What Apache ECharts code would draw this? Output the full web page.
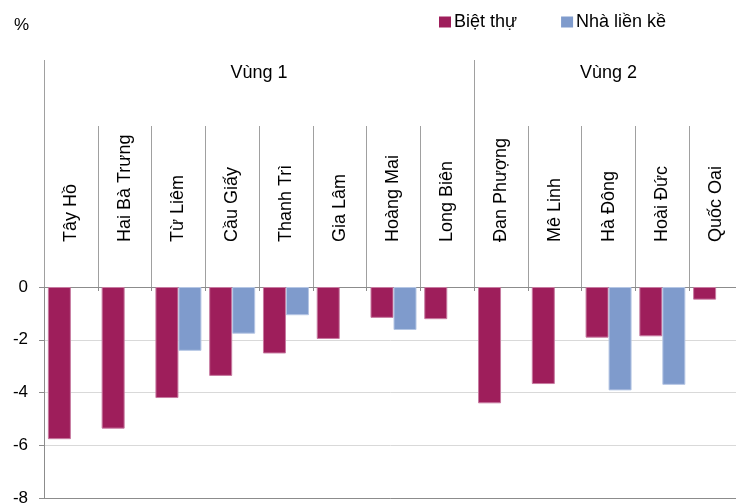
<!DOCTYPE html>
<html>
<head>
<meta charset="utf-8">
<script src="https://cdn.jsdelivr.net/npm/echarts@6/dist/echarts.min.js"></script>
<style>
  html, body { margin: 0; padding: 0; background: #fff; }
  #chart { width: 736px; height: 504px; }
</style>
</head>
<body>
<div id="chart"></div>
<script>
// du lieu
var categories = ['Tây Hồ', 'Hai Bà Trưng', 'Từ Liêm', 'Cầu Giấy', 'Thanh Trì', 'Gia Lâm', 'Hoàng Mai', 'Long Biên',
  'Đan Phượng', 'Mê Linh', 'Hà Đông', 'Hoài Đức', 'Quốc Oai'];
var bietThu = [-5.77, -5.37, -4.21, -3.37, -2.52, -1.97, -1.17, -1.22, -4.41, -3.68, -1.92, -1.87, -0.48];
var nhaLienKe = ['-', '-', -2.42, -1.77, -1.07, '-', -1.63, '-', '-', '-', -3.92, -3.71, '-'];
var seriesNames = ['Biệt thự', 'Nhà liền kề'];
var groupNames = ['Vùng 1', 'Vùng 2'];
var groupSizes = [8, 5];
var yTicks = [0, -2, -4, -6, -8];

var FONT = "'Liberation Sans', Arial, sans-serif";

// ranh gioi va tam cua tung vung
var groupEdges = [0];
var groupCenters = [];
groupSizes.forEach(function(n, i) {
  var start = groupEdges[i];
  groupEdges.push(start + n);
  groupCenters.push(start + n / 2);
});

var dom = document.getElementById('chart');
var myChart = echarts.init(dom, null, { renderer: 'canvas' });

var option = {
  animation: false,
  backgroundColor: '#fff',
  textStyle: { fontFamily: FONT },
  title: {
    text: '%',
    left: 9,
    top: 12,
    textStyle: { fontSize: 17, fontWeight: 'normal', color: '#000', fontFamily: FONT }
  },
  legend: {
    data: seriesNames,
    left: 434,
    top: 8,
    icon: 'rect',
    itemWidth: 12,
    itemHeight: 11,
    itemGap: 44,
    itemStyle: { borderWidth: 0 },
    textStyle: { fontSize: 18, color: '#000', fontFamily: FONT, padding: [0, 0, 0, -2] }
  },
  grid: {
    left: 44,
    right: -7,
    top: 287,
    bottom: 6,
    containLabel: false,
    outerBoundsMode: 'none'
  },
  xAxis: [{
    // truc chinh tai 0, cac vach ngan danh muc
    type: 'category',
    position: 'top',
    data: categories,
    axisLine: { onZero: false, lineStyle: { color: '#8c8c8c', width: 1 } },
    axisTick: { show: true, interval: 0, length: 161, lineStyle: { color: '#a0a0a0' } },
    axisLabel: {
      interval: 0,
      rotate: -90,
      margin: 45,
      fontSize: 18,
      color: '#000',
      fontFamily: FONT
    },
    splitLine: { show: false }
  }, {
    // vach nho phia duoi truc 0
    type: 'category',
    position: 'top',
    data: categories,
    axisLine: { show: false, onZero: false },
    axisTick: { show: true, interval: 0, inside: true, length: 4, lineStyle: { color: '#8c8c8c' } },
    axisLabel: { show: false },
    splitLine: { show: false }
  }, {
    // nhom vung
    type: 'value',
    position: 'top',
    min: 0,
    max: categories.length,
    axisLine: { show: false, onZero: false },
    axisTick: { show: true, customValues: groupEdges, length: 227, lineStyle: { color: '#a0a0a0' } },
    axisLabel: {
      customValues: groupCenters,
      margin: 205,
      fontSize: 18,
      color: '#000',
      fontFamily: FONT,
      formatter: function(v) {
        var idx = groupCenters.indexOf(v);
        return idx >= 0 ? groupNames[idx] : '';
      }
    },
    splitLine: { show: false }
  }, {
    // duong day -8
    type: 'category',
    position: 'bottom',
    data: categories,
    axisLine: { onZero: false, lineStyle: { color: '#8c8c8c', width: 1 } },
    axisTick: { show: false },
    axisLabel: { show: false },
    splitLine: { show: false }
  }],
  yAxis: {
    type: 'value',
    min: yTicks[yTicks.length - 1],
    max: yTicks[0],
    interval: 2,
    axisLine: { show: true, onZero: false, lineStyle: { color: '#8c8c8c' } },
    axisTick: { show: true, length: 5, lineStyle: { color: '#8c8c8c' } },
    axisLabel: { fontSize: 17, color: '#000', margin: 16, fontFamily: FONT },
    splitLine: { show: true, lineStyle: { color: '#d9d9d9', width: 1 } }
  },
  series: [{
    name: seriesNames[0],
    type: 'bar',
    xAxisIndex: 0,
    data: bietThu,
    barWidth: 23,
    barGap: '0%',
    itemStyle: { color: '#9e1e5b', borderColor: '#c77aa0', borderWidth: 1 }
  }, {
    name: seriesNames[1],
    type: 'bar',
    xAxisIndex: 0,
    data: nhaLienKe,
    barWidth: 23,
    barGap: '0%',
    itemStyle: { color: '#7f9bcc', borderColor: '#b5c6e4', borderWidth: 1 }
  }]
};

myChart.setOption(option, true);
window.addEventListener('resize', function() {
  try { myChart.resize(); } catch (e) {}
});
</script>
</body>
</html>
